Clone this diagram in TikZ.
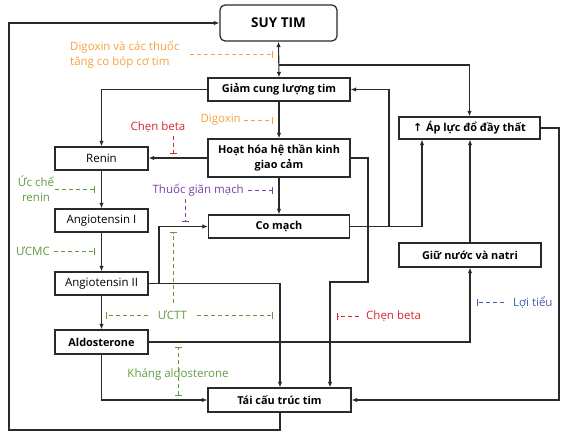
\documentclass[tikz,border=0pt]{standalone}
\usepackage{fontspec}
\setmainfont{Open Sans}
\usetikzlibrary{arrows.meta}
\definecolor{cOr}{HTML}{F6A23C}
\definecolor{cGr}{HTML}{619A3E}
\definecolor{cPu}{HTML}{7E3FA8}
\definecolor{cRe}{HTML}{D3272E}
\definecolor{cBl}{HTML}{4060A8}
\definecolor{cLn}{HTML}{2A2A2A}
\tikzset{
  box/.style={draw=cLn, line width=1.2pt, fill=white, inner sep=1pt, align=center, font=\fontsize{10.9}{15}\selectfont\bfseries},
  lbox/.style={draw=cLn, line width=1.2pt, fill=white, inner sep=1pt, align=center, font=\fontsize{11.5}{14}\selectfont},
  arr/.style={draw=cLn, line width=1.1pt, -{Latex[length=5.5pt,width=4.5pt]}},
  inh/.style={line width=1pt, dash pattern=on 4pt off 3pt, -{Bar[width=7pt,line width=1pt]}},
  lab/.style={inner sep=0pt, font=\fontsize{11.5}{15}\selectfont},
}
\begin{document}
\begin{tikzpicture}[x=1pt,y=-1pt]
\useasboundingbox (0,0) rectangle (568,434);
% boxes
\node[box, rounded corners=5pt, minimum width=117pt, minimum height=36pt, font=\fontsize{13.5}{15}\selectfont\bfseries] (suy) at (278.5,23) {SUY TIM};
\node[box, minimum width=142pt, minimum height=23pt] (giam) at (279,89.5) {Giảm cung lượng tim};
\node[box, minimum width=142pt, minimum height=38pt] (hoat) at (279,158) {Hoạt hóa hệ thần kinh\\giao cảm};
\node[box, minimum width=141pt, minimum height=23pt] (co) at (279,226.5) {Co mạch};
\node[lbox, minimum width=93pt, minimum height=23pt] (renin) at (101.5,158.5) {Renin};
\node[lbox, minimum width=93pt, minimum height=23pt] (ang1) at (101.5,220.5) {Angiotensin I};
\node[lbox, minimum width=93pt, minimum height=23pt] (ang2) at (101.5,283.5) {Angiotensin II};
\node[box, minimum width=93pt, minimum height=24pt] (aldo) at (101.5,342) {Aldosterone};
\node[box, minimum width=143pt, minimum height=24pt] (tai) at (279.5,400) {Tái cấu trúc tim};
\node[box, minimum width=141pt, minimum height=22pt] (apluc) at (469.5,128) {\fontspec{DejaVu Sans}\bfseries ↑\ \fontspec{Open Sans}\bfseries Áp lực đổ đầy thất};
\node[box, minimum width=142pt, minimum height=24pt] (giu) at (470,255) {Giữ nước và natri};
% coordinates
\coordinate (j1) at (279,65);
\coordinate (h1) at (368,158);
\coordinate (h2) at (368,282);
\coordinate (h3) at (330,282);
\coordinate (c1) at (422,226.5);
\coordinate (c2) at (389,226.5);
\coordinate (c3) at (389,89.5);
\coordinate (a1) at (280,283.5);
\coordinate (a2) at (159,283.5);
\coordinate (a3) at (159,226.5);
\coordinate (d1) at (470,342);
\coordinate (d2) at (101.5,400);
\coordinate (p1) at (559,128);
\coordinate (p2) at (559,400);
\coordinate (t1) at (280,430);
\coordinate (t2) at (9,430);
\coordinate (t3) at (9,23);
% connectors
\draw[arr, {Latex[length=5.5pt,width=4.5pt]}-{Latex[length=5.5pt,width=4.5pt]}] (suy.south) -- (giam.north);
\draw[arr] (j1) -| (apluc.north);
\draw[arr] (giam.west) -| (renin.north);
\draw[arr] (hoat.west) -- (renin.east |- hoat.west);
\draw[arr] (giam.south) -- (hoat.north);
\draw[arr] (hoat.south) -- (co.north);
\draw[arr] (hoat.east) -- (h1) -- (h2) -- (h3) -- (tai.north -| h3);
\draw[arr] (co.east) -- (c1) -- (apluc.south -| c1);
\draw[arr] (c2) -- (c3) -- (giam.east);
\draw[arr] (renin.south) -- (ang1.north);
\draw[arr] (ang1.south) -- (ang2.north);
\draw[arr] (ang2.south) -- (aldo.north);
\draw[arr] (ang2.east) -- (a1) -- (tai.north -| a1);
\draw[arr] (a2) -- (a3) -- (co.west);
\draw[arr] (aldo.east) -- (d1) -- (giu.south);
\draw[arr] (aldo.south) -- (d2) -- (tai.west);
\draw[arr] (giu.north) -- (apluc.south -| giu.north);
\draw[arr] (apluc.east) -- (p1) -- (p2) -- (tai.east);
\draw[arr] (tai.south -| t1) -- (t1) -- (t2) -- (t3) -- (suy.west);
% drug labels
\node[lab, text=cOr, align=left, anchor=west] (dig1) at (70,55) {Digoxin và các thuốc\\tăng co bóp cơ tim};
\coordinate (dig1s) at (190,54); \coordinate (dig1e) at (273,54);
\draw[inh, cOr] (dig1s) -- (dig1e);
\node[lab, text=cOr, anchor=east] (dig2) at (241,120) {Digoxin};
\coordinate (dig2e) at (273,120);
\draw[inh, cOr] ([xshift=3pt]dig2.east) -- (dig2e);
\node[lab, text=cRe] (cb1) at (158,127) {Chẹn beta};
\coordinate (cb1s) at (173,136); \coordinate (cb1e) at (173,154);
\draw[inh, cRe] (cb1s) -- (cb1e);
\node[lab, text=cGr, align=center] (ucr) at (36,188.5) {Ức chế\\renin};
\coordinate (ucrs) at (55,189); \coordinate (ucre) at (95,189);
\draw[inh, cGr] (ucrs) -- (ucre);
\node[lab, text=cPu, anchor=east] (tgm) at (244,190) {Thuốc giãn mạch};
\coordinate (tgme) at (273,190);
\draw[inh, cPu] ([xshift=4pt]tgm.east) -- (tgme);
\coordinate (tgms) at (185,199); \coordinate (tgmv) at (185,222);
\draw[inh, cPu] (tgms) -- (tgmv);
\node[lab, text=cGr, anchor=east] (ucmc) at (50,251) {ƯCMC};
\coordinate (ucmce) at (95,251);
\draw[inh, cGr] ([xshift=4pt]ucmc.east) -- (ucmce);
\node[lab, text=cGr] (uctt) at (172.5,315) {ƯCTT};
\coordinate (ucttl) at (106,315); \coordinate (ucttls) at (148,315);
\coordinate (ucttr) at (273,315); \coordinate (ucttrs) at (197,315);
\coordinate (ucttv) at (173,232); \coordinate (ucttvs) at (173,303);
\draw[inh, cGr] (ucttls) -- (ucttl);
\draw[inh, cGr] (ucttrs) -- (ucttr);
\draw[inh, cGr] (ucttvs) -- (ucttv);
\node[lab, text=cGr] (kal) at (178,374) {Kháng aldosterone};
\coordinate (kalt) at (178,347); \coordinate (kalb) at (178,396);
\draw[inh, cGr] ([yshift=-3pt]kal.north -| kalt) -- (kalt);
\draw[inh, cGr] ([yshift=3pt]kal.south -| kalb) -- (kalb);
\node[lab, text=cRe, anchor=west] (cb2) at (366,316) {Chẹn beta};
\coordinate (cb2e) at (337,316);
\draw[inh, cRe] ([xshift=-7pt]cb2.west) -- (cb2e);
\node[lab, text=cBl, anchor=west] (lt) at (513,302) {Lợi tiểu};
\coordinate (lte) at (477,302);
\draw[inh, cBl] ([xshift=-9pt]lt.west) -- (lte);
\end{tikzpicture}
\end{document}
